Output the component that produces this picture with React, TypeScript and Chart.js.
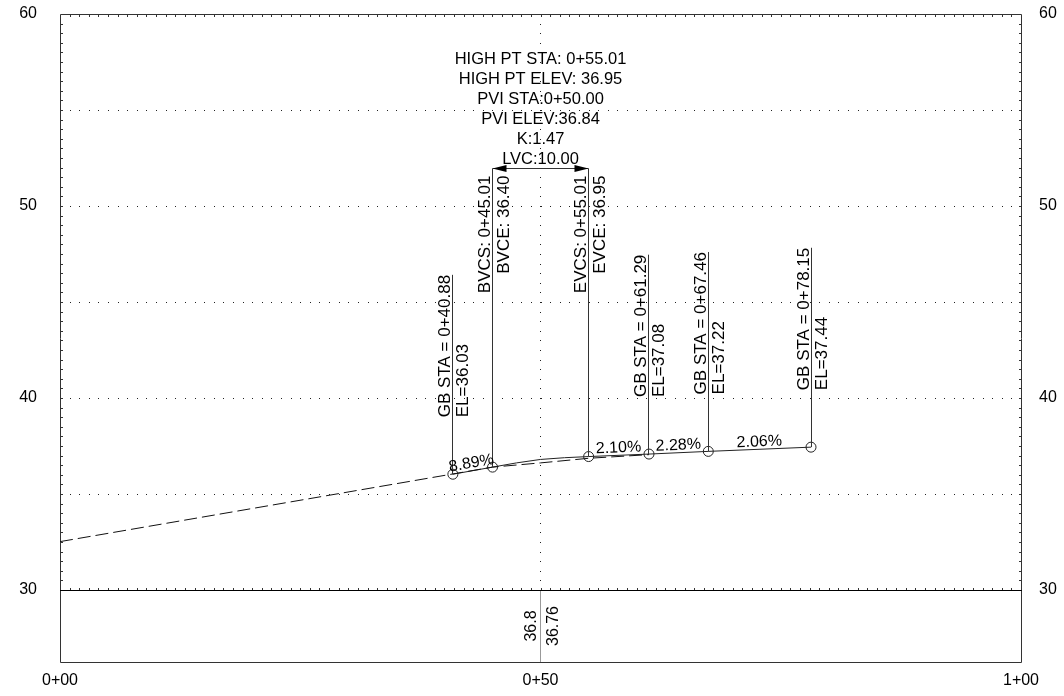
import React, { useEffect, useRef } from "react";
import { Chart, registerables } from "chart.js";

Chart.register(...registerables);

const FONT = "'Liberation Sans', Arial, sans-serif";

// ---- axes ----
const xTickValues = [0, 50, 100];
const xTickLabels = ["0+00", "0+50", "1+00"];
const yTickValues = [30, 40, 50, 60];
const yTickLabels = ["30", "40", "50", "60"];
const gridElevations = [35, 40, 45, 50, 55];

// ---- existing surface profile (solid) ----
const surfaceStations = [40.88, 45.01, 47.5, 50, 52.5, 55.01, 61.29, 67.46, 78.15];
const surfaceElevations = [36.03, 36.4, 36.62, 36.8, 36.89, 36.95, 37.08, 37.22, 37.44];

// ---- grade break points ----
const gbStations = [40.88, 45.01, 55.01, 61.29, 67.46, 78.15];
const gbElevations = [36.03, 36.4, 36.95, 37.08, 37.22, 37.44];
const gradeLabels = ["8.89%", "", "2.10%", "2.28%", "2.06%"];

// ---- design profile (dashed) ----
const designStations = [0, 45.01, 50, 55.01, 61.29];
const designElevations = [32.52, 36.4, 36.62, 36.86, 37.05];

// ---- vertical curve data ----
const bvcStation = 45.01;
const bvcElevation = 36.4;
const evcStation = 55.01;
const evcElevation = 36.95;
const pviStation = 50.0;
const pviElevation = 36.84;
const highPtStation = 55.01;
const highPtElevation = 36.95;
const kValue = 1.47;
const lvcLength = 10.0;

// ---- band ----
const bandStation = 50;
const bandLabels = ["36.8", "36.76"];

// layout constants (not data)
const ARROW_ELEV = 52;
const BAND_TOP_ELEV = 30;

function sta(v: number): string {
  const h = Math.floor(v / 100);
  const r = v - h * 100;
  return `${h}+${r.toFixed(2).padStart(5, "0")}`;
}

const profilePlugin = {
  id: "profileDecor",
  beforeDatasetsDraw(chart: any) {
    const { ctx, chartArea: a, scales } = chart;
    const x = scales.x;
    const y = scales.y;
    const px = (s: number) => x.getPixelForValue(s);
    const py = (e: number) => y.getPixelForValue(e);
    const L = Math.round(a.left);
    const R = Math.round(a.right);
    const T = Math.round(a.top);
    const B = Math.round(a.bottom);
    const y30 = Math.round(py(BAND_TOP_ELEV));
    ctx.save();
    // dotted grid
    ctx.fillStyle = "#222";
    for (let s = 1; s < 100; s++) {
      for (const e of gridElevations) {
        ctx.fillRect(Math.round(px(s)), Math.round(py(e)), 1, 1);
      }
    }
    const xv = Math.floor(px(50));
    for (let k = 61; k < 120; k++) {
      ctx.fillRect(xv, Math.round(py(k / 2)), 1, 1);
    }
    // minor ticks
    ctx.fillStyle = "#333";
    for (let k = 60; k <= 120; k++) {
      const yy = Math.round(py(k / 2));
      ctx.fillRect(L + 1, yy, 2, 1);
      ctx.fillRect(R - 2, yy, 2, 1);
    }
    for (let s = 1; s < 100; s++) {
      const xx = Math.round(px(s));
      ctx.fillRect(xx, T + 1, 1, 2);
      ctx.fillRect(xx, y30 - 2, 1, 2);
    }
    // frame
    ctx.strokeStyle = "#333";
    ctx.lineWidth = 1;
    ctx.beginPath();
    ctx.rect(L + 0.5, T + 0.5, R - L, B - T);
    ctx.stroke();
    ctx.strokeStyle = "#000";
    ctx.beginPath();
    ctx.moveTo(L, y30 + 0.5);
    ctx.lineTo(R + 1, y30 + 0.5);
    ctx.stroke();
    // band vertical line
    ctx.strokeStyle = "#999";
    ctx.beginPath();
    ctx.moveTo(Math.floor(px(bandStation)) + 0.5, y30 + 1);
    ctx.lineTo(Math.floor(px(bandStation)) + 0.5, B);
    ctx.stroke();
    ctx.restore();
  },
  afterDatasetsDraw(chart: any) {
    const { ctx, chartArea: a, scales } = chart;
    const x = scales.x;
    const y = scales.y;
    const px = (s: number) => x.getPixelForValue(s);
    const py = (e: number) => y.getPixelForValue(e);
    ctx.save();
    ctx.fillStyle = "#000";
    ctx.strokeStyle = "#333";
    ctx.lineWidth = 1;

    const vline = (xx: number, y1: number, y2: number) => {
      ctx.beginPath();
      ctx.moveTo(xx, y1);
      ctx.lineTo(xx, y2);
      ctx.stroke();
    };
    const rotText = (t: string, xx: number, yy: number, align: CanvasTextAlign) => {
      ctx.save();
      ctx.translate(xx, yy);
      ctx.rotate(-Math.PI / 2);
      ctx.textAlign = align;
      ctx.textBaseline = "alphabetic";
      ctx.fillText(t, 0, 0);
      ctx.restore();
    };

    // GB labels
    ctx.font = `17px ${FONT}`;
    gbStations.forEach((s, i) => {
      if (Math.abs(s - bvcStation) < 0.01 || Math.abs(s - evcStation) < 0.01) return;
      const lx = Math.floor(px(s)) + 0.5;
      const pyy = py(gbElevations[i]);
      const bottom = pyy - 57;
      const t1 = `GB STA = ${sta(s)}`;
      const t2 = `EL=${gbElevations[i].toFixed(2)}`;
      const w = ctx.measureText(t1).width;
      vline(lx, pyy, bottom - w);
      rotText(t1, lx - 2.5, bottom, "left");
      rotText(t2, lx + 15.5, bottom, "left");
    });

    // vertical curve labels
    const ay = Math.round(py(ARROW_ELEV)) + 0.5;
    const bx = Math.floor(px(bvcStation)) + 0.5;
    const ex = Math.floor(px(evcStation)) + 0.5;
    vline(bx, ay, py(bvcElevation));
    vline(ex, ay, py(evcElevation));
    ctx.beginPath();
    ctx.moveTo(bx, ay);
    ctx.lineTo(ex, ay);
    ctx.stroke();
    ctx.beginPath();
    ctx.moveTo(bx, ay);
    ctx.lineTo(bx + 14, ay - 3.5);
    ctx.lineTo(bx + 14, ay + 3.5);
    ctx.closePath();
    ctx.moveTo(ex, ay);
    ctx.lineTo(ex - 14, ay - 3.5);
    ctx.lineTo(ex - 14, ay + 3.5);
    ctx.closePath();
    ctx.fill();
    const labTop = ay + 7;
    rotText(`BVCS: ${sta(bvcStation)}`, bx - 2.5, labTop, "right");
    rotText(`BVCE: ${bvcElevation.toFixed(2)}`, bx + 16, labTop, "right");
    rotText(`EVCS: ${sta(evcStation)}`, ex - 2.5, labTop, "right");
    rotText(`EVCE: ${evcElevation.toFixed(2)}`, ex + 16, labTop, "right");

    // top text block
    const lines = [
      `HIGH PT STA: ${sta(highPtStation)}`,
      `HIGH PT ELEV: ${highPtElevation.toFixed(2)}`,
      `PVI STA:${sta(pviStation)}`,
      `PVI ELEV:${pviElevation.toFixed(2)}`,
      `K:${kValue.toFixed(2)}`,
      `LVC:${lvcLength.toFixed(2)}`,
    ];
    ctx.font = `16.5px ${FONT}`;
    ctx.textAlign = "center";
    ctx.textBaseline = "alphabetic";
    const cx = px(pviStation);
    lines.forEach((t, i) => {
      ctx.fillText(t, cx, ay - 4.5 - (lines.length - 1 - i) * 20);
    });

    // grade labels
    ctx.font = `16px ${FONT}`;
    gradeLabels.forEach((t, i) => {
      if (!t) return;
      const x1 = px(gbStations[i]);
      const y1 = py(gbElevations[i]);
      const x2 = px(gbStations[i + 1]);
      const y2 = py(gbElevations[i + 1]);
      const ang = Math.atan2(y2 - y1, x2 - x1);
      ctx.save();
      ctx.translate((x1 + x2) / 2, (y1 + y2) / 2);
      ctx.rotate(ang);
      ctx.textAlign = "center";
      ctx.textBaseline = "alphabetic";
      ctx.fillText(t, 0, -3);
      ctx.restore();
    });

    // band labels
    const bandX = Math.floor(px(bandStation)) + 0.5;
    const ym = (py(BAND_TOP_ELEV) + a.bottom) / 2;
    rotText(bandLabels[0], bandX - 5, ym, "center");
    rotText(bandLabels[1], bandX + 17.5, ym, "center");
    ctx.restore();
  },
};

export default function App() {
  const ref = useRef<HTMLCanvasElement | null>(null);
  useEffect(() => {
    if (!ref.current) return;
    Chart.defaults.font.family = FONT;
    const tickFont = { family: FONT, size: 16 };
    const yAxis = (position: "left" | "right", padding: number, width: number) => ({
      type: "linear" as const,
      position,
      min: 26.25,
      max: 60,
      afterBuildTicks: (s: any) => {
        s.ticks = yTickValues.map((v) => ({ value: v }));
      },
      afterFit: (s: any) => {
        s.width = width;
        s.paddingTop = 0;
        s.paddingBottom = 0;
      },
      ticks: {
        callback: (_v: any, i: number) => yTickLabels[i],
        padding,
        color: "#000",
        font: tickFont,
      },
      grid: { display: false, drawTicks: false },
      border: { display: false },
    });
    const chart = new Chart(ref.current, {
      type: "scatter",
      data: {
        datasets: [
          {
            data: designStations.map((s, i) => ({ x: s, y: designElevations[i] })),
            showLine: true,
            borderColor: "#111",
            borderWidth: 1,
            borderDash: [13, 5],
            pointRadius: 0,
            yAxisID: "y",
          },
          {
            data: surfaceStations.map((s, i) => ({ x: s, y: surfaceElevations[i] })),
            showLine: true,
            borderColor: "#222",
            borderWidth: 1,
            pointRadius: 0,
            yAxisID: "y",
          },
          {
            data: gbStations.map((s, i) => ({ x: s, y: gbElevations[i] })),
            showLine: false,
            pointRadius: 5,
            pointStyle: "circle",
            borderColor: "#222",
            backgroundColor: "rgba(0,0,0,0)",
            borderWidth: 1,
            yAxisID: "y",
          },
        ],
      },
      options: {
        responsive: false,
        animation: false,
        devicePixelRatio: 1,
        layout: { padding: { top: 14, left: 0, right: 0, bottom: 0 } },
        plugins: { legend: { display: false }, tooltip: { enabled: false } },
        events: [],
        scales: {
          x: {
            type: "linear",
            min: 0,
            max: 100,
            afterBuildTicks: (s: any) => {
              s.ticks = xTickValues.map((v) => ({ value: v }));
            },
            afterFit: (s: any) => {
              s.height = 34;
              s.paddingLeft = 0;
              s.paddingRight = 0;
            },
            ticks: {
              callback: (_v: any, i: number) => xTickLabels[i],
              maxRotation: 0,
              autoSkip: false,
              padding: 9,
              color: "#000",
              font: tickFont,
            },
            grid: { display: false, drawTicks: false },
            border: { display: false },
          },
          y: yAxis("left", 23, 60),
          y2: yAxis("right", 18, 43),
        },
      },
      plugins: [profilePlugin],
    } as any);
    return () => chart.destroy();
  }, []);
  return (
    <div style={{ position: "absolute", left: 0, top: 0, width: 1064, height: 696, background: "#fff" }}>
      <canvas ref={ref} width={1064} height={696} style={{ display: "block" }} />
    </div>
  );
}
